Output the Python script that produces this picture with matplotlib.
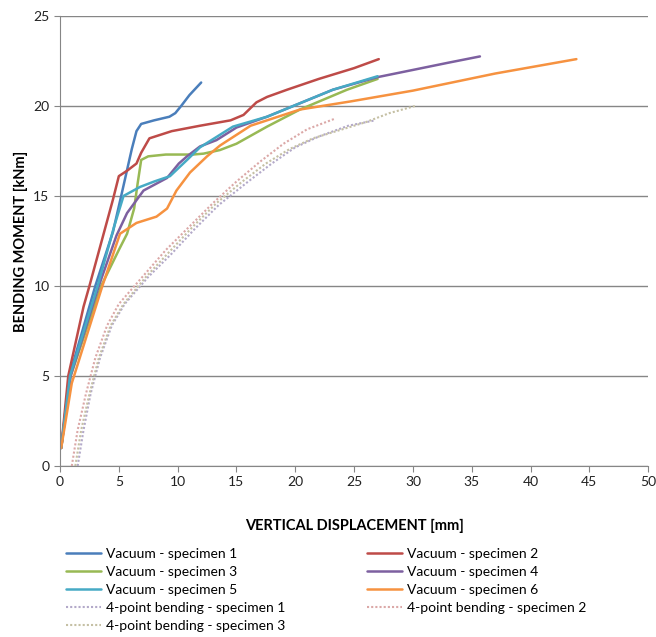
import matplotlib.pyplot as plt

plt.rcParams['font.family'] = ['Lato', 'DejaVu Sans']

# Vacuum specimens (displacement mm, moment kNm)
v1_x = [0.1, 0.8, 3.0, 4.5, 5.2, 6.1, 6.5, 6.9, 8.0, 9.3, 9.8, 10.3, 11.0, 12.0]
v1_y = [1.0, 5.0, 10.0, 13.0, 15.0, 17.6, 18.6, 19.0, 19.2, 19.4, 19.6, 20.0, 20.6, 21.3]

v2_x = [0.1, 0.7, 2.0, 2.5, 4.5, 5.0, 5.7, 6.5, 6.9, 7.6, 9.5, 11.9, 14.5, 15.6, 16.7, 17.6, 19.3, 22.0, 25.0, 27.1]
v2_y = [1.0, 5.0, 8.85, 10.0, 14.8, 16.1, 16.4, 16.8, 17.4, 18.2, 18.6, 18.9, 19.2, 19.5, 20.2, 20.5, 20.9, 21.5, 22.1, 22.6]

v3_x = [0.1, 0.9, 3.5, 5.0, 5.7, 6.3, 6.6, 6.9, 7.5, 9.0, 11.3, 12.2, 13.6, 15.0, 17.6, 20.4, 24.4, 27.0]
v3_y = [1.0, 5.0, 10.0, 12.0, 12.9, 14.3, 15.7, 17.0, 17.2, 17.3, 17.3, 17.35, 17.55, 17.9, 18.85, 19.8, 20.9, 21.5]

v4_x = [0.1, 0.9, 3.3, 4.8, 5.7, 7.1, 9.1, 10.1, 10.8, 11.9, 13.3, 15.0, 17.6, 20.4, 23.2, 27.0, 30.0, 33.0, 35.7]
v4_y = [1.0, 5.0, 10.0, 12.8, 14.05, 15.3, 16.0, 16.8, 17.2, 17.75, 18.1, 18.8, 19.4, 20.15, 20.9, 21.6, 22.0, 22.4, 22.75]

v5_x = [0.1, 0.85, 3.2, 4.6, 5.4, 6.8, 8.0, 9.35, 10.8, 11.9, 14.7, 17.6, 20.4, 23.2, 27.0]
v5_y = [1.0, 5.0, 10.0, 13.3, 15.0, 15.5, 15.8, 16.1, 17.0, 17.7, 18.85, 19.4, 20.15, 20.9, 21.65]

v6_x = [0.1, 1.0, 3.6, 5.1, 6.5, 8.2, 9.1, 9.9, 11.05, 12.5, 13.6, 16.2, 20.4, 24.7, 30.0, 37.0, 43.9]
v6_y = [1.0, 4.6, 10.0, 12.9, 13.5, 13.85, 14.3, 15.3, 16.3, 17.2, 17.8, 18.9, 19.8, 20.25, 20.85, 21.8, 22.6]

# 4-point bending specimens
b1_x = [1.5, 2.0, 2.6, 3.4, 4.4, 5.5, 7.5, 9.5, 11.5, 13.5, 16.0, 18.0, 20.0, 22.0, 24.5, 26.8]
b1_y = [0.0, 2.0, 4.0, 6.0, 7.8, 9.0, 10.5, 11.8, 13.2, 14.5, 15.8, 16.8, 17.7, 18.3, 18.9, 19.2]

b2_x = [1.0, 1.5, 2.2, 3.0, 4.0, 5.0, 7.0, 9.0, 11.0, 13.0, 15.0, 17.0, 19.0, 21.0, 23.4]
b2_y = [0.0, 2.0, 4.0, 6.0, 7.8, 9.0, 10.5, 12.0, 13.3, 14.6, 15.8, 16.9, 17.9, 18.7, 19.3]

b3_x = [1.3, 1.8, 2.5, 3.3, 4.3, 5.4, 7.3, 9.3, 11.3, 13.3, 15.5, 17.5, 19.5, 21.5, 24.0, 26.0, 28.0, 30.2]
b3_y = [0.0, 2.0, 4.0, 6.0, 7.8, 9.0, 10.5, 11.9, 13.3, 14.6, 15.8, 16.8, 17.6, 18.2, 18.7, 19.1, 19.6, 20.0]

labels = ['Vacuum - specimen 1', 'Vacuum - specimen 2', 'Vacuum - specimen 3',
          'Vacuum - specimen 4', 'Vacuum - specimen 5', 'Vacuum - specimen 6',
          '4-point bending - specimen 1', '4-point bending - specimen 2',
          '4-point bending - specimen 3']

fig = plt.figure(figsize=(6.56, 6.37), dpi=100)
ax = fig.add_axes([0.0915, 0.2685, 0.8965, 0.7065])

solid = dict(lw=1.8, solid_capstyle='round')
dots = dict(lw=1.5, linestyle=(0, (1, 1)))
h1, = ax.plot(v1_x, v1_y, color='#4a7ebb', label=labels[0], **solid)
h2, = ax.plot(v2_x, v2_y, color='#be4b48', label=labels[1], **solid)
h3, = ax.plot(v3_x, v3_y, color='#98b954', label=labels[2], **solid)
h4, = ax.plot(v4_x, v4_y, color='#7d60a0', label=labels[3], **solid)
h5, = ax.plot(v5_x, v5_y, color='#46aac5', label=labels[4], **solid)
h6, = ax.plot(v6_x, v6_y, color='#f69240', label=labels[5], **solid)
h7, = ax.plot(b1_x, b1_y, color='#b3a9c9', label=labels[6], **dots)
h8, = ax.plot(b2_x, b2_y, color='#dba8a7', label=labels[7], **dots)
h9, = ax.plot(b3_x, b3_y, color='#c5c0a4', label=labels[8], **dots)

ax.set_xlim(0, 50)
ax.set_ylim(0, 25)
ax.set_xticks(range(0, 51, 5))
ax.set_yticks(range(0, 26, 5))
ax.grid(axis='y', color='#868686', lw=1)
ax.set_axisbelow(True)
for s in ['top', 'right']:
    ax.spines[s].set_visible(False)
for s in ['left', 'bottom']:
    ax.spines[s].set_color('#868686')
ax.tick_params(colors='#868686', labelcolor='#222222', labelsize=10, length=4)

ax.set_xlabel('VERTICAL DISPLACEMENT [mm]', fontsize=10.5, fontweight='bold', labelpad=22)
ax.set_ylabel('BENDING MOMENT [kNm]', fontsize=10.5, fontweight='bold', labelpad=4)

order = [h1, h3, h5, h7, h9, h2, h4, h6, h8]
fig.legend(handles=order, loc='upper left', bbox_to_anchor=(0.092, 0.148), ncol=2,
           frameon=False, fontsize=10, handlelength=2.5, handletextpad=0.4,
           columnspacing=5.85, labelspacing=0.42, borderaxespad=0)

fig.savefig('out.png', dpi=100)
